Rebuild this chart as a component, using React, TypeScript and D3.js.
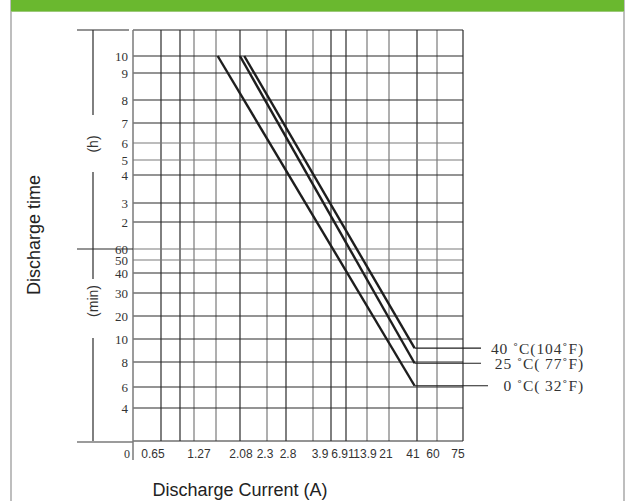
import React from 'react';
import * as d3 from 'd3';

// ---- data ----
const X_TICK_VALUES = [0, 0.65, 1.27, 2.08, 2.3, 2.8, 3.9, 6.91, 13.9, 21, 41, 60, 75];
const X_TICK_LABELS = ['0', '0.65', '1.27', '2.08', '2.3', '2.8', '3.9', '6.91', '13.9', '21', '41', '60', '75'];
// discharge time in minutes
const Y_TICK_VALUES = [600, 540, 480, 420, 360, 300, 240, 180, 120, 60, 50, 40, 30, 20, 10, 8, 6, 4];
const Y_TICK_LABELS = ['10', '9', '8', '7', '6', '5', '4', '3', '2', '60', '50', '40', '30', '20', '10', '8', '6', '4'];

const SERIES_NAMES = ['40 ˚C(104˚F)', '25 ˚C( 77˚F)', '0 ˚C( 32˚F)'];
const CURRENT_START = [2.11, 2.06, 1.63];
const CURRENT_END = [42.5, 42.5, 42.5];
const TIME_START = [600, 600, 600];
const TIME_END = [9.2, 7.9, 6.1];

// ---- layout (pixel positions of the scanned, irregular grid) ----
const X_TICK_POS = [127, 153, 199, 241, 265, 288, 320, 343, 365, 386, 413, 433, 458];
const Y_TICK_POS = [56, 73, 100, 123, 143, 160, 175, 203, 222, 249, 260, 273, 293, 316, 339, 362, 387, 408];
const GRID_X = [161, 180, 194, 216, 240, 267, 286, 313, 331, 346, 367, 389, 417, 437];
const GRID_X_GRAY = [false, false, true, true, false, true, false, true, false, false, true, true, false, true];
const Y_GRAY = [false, false, false, false, true, true, false, false, false, true, true, false, false, false, false, false, false, false];

const PLOT = { left: 133, right: 463, top: 30, bottom: 441 };

export default function App() {
  const x = d3.scaleLinear().domain(X_TICK_VALUES).range(X_TICK_POS);
  const y = d3.scaleLinear().domain(Y_TICK_VALUES).range(Y_TICK_POS);
  const line = d3.line<[number, number]>().x((d) => x(d[0])).y((d) => y(d[1]));

  const series = SERIES_NAMES.map((name, i) => ({
    name,
    pts: [
      [CURRENT_START[i], TIME_START[i]],
      [CURRENT_END[i], TIME_END[i]],
    ] as [number, number][],
  }));

  const dark = '#2a2a2a';
  const gray = '#7a7a7a';
  const serif = '"Liberation Serif", "Times New Roman", serif';
  const sans = '"Liberation Sans", Arial, sans-serif';
  const bx = 93; // bracket line x

  return (
    <svg width={630} height={501} style={{ position: 'absolute', left: 0, top: 0, background: '#fff' }}>
      <rect x={0} y={0} width={630} height={501} fill="#fff" />
      {/* frame */}
      <rect x={11} y={0} width={613} height={510} fill="none" stroke="#a9a9a9" strokeWidth={1.5} />
      <rect x={11} y={0} width={613} height={11} fill="#6ab82f" />
      <line x1={11} x2={624} y1={11.5} y2={11.5} stroke="#9cc97a" strokeWidth={1} />

      {/* grid vertical lines */}
      {GRID_X.map((gx, i) => (
        <line key={'gx' + i} x1={gx} x2={gx} y1={PLOT.top} y2={PLOT.bottom} stroke={GRID_X_GRAY[i] ? gray : dark} strokeWidth={1.2} />
      ))}
      {/* grid horizontal lines */}
      {Y_TICK_VALUES.map((v, i) => (
        <line key={'gy' + i} x1={PLOT.left} x2={PLOT.right} y1={y(v)} y2={y(v)} stroke={Y_GRAY[i] ? gray : dark} strokeWidth={1.2} />
      ))}
      {/* plot border */}
      <line x1={PLOT.left} x2={PLOT.right} y1={PLOT.top} y2={PLOT.top} stroke={dark} strokeWidth={1.2} />
      <line x1={PLOT.left} x2={PLOT.right} y1={PLOT.bottom} y2={PLOT.bottom} stroke={dark} strokeWidth={1.2} />
      <line x1={PLOT.right} x2={PLOT.right} y1={PLOT.top} y2={PLOT.bottom} stroke={dark} strokeWidth={1.2} />
      <line x1={PLOT.left} x2={PLOT.left} y1={PLOT.top} y2={460} stroke={gray} strokeWidth={1.5} />

      {/* left bracket */}
      <line x1={77} x2={129} y1={PLOT.top} y2={PLOT.top} stroke={dark} strokeWidth={1.2} />
      <line x1={77} x2={PLOT.left} y1={y(60)} y2={y(60)} stroke={dark} strokeWidth={1.2} />
      <line x1={77} x2={PLOT.left} y1={PLOT.bottom + 1} y2={PLOT.bottom + 1} stroke={gray} strokeWidth={1.5} />
      <line x1={bx} x2={bx} y1={PLOT.top} y2={115} stroke={dark} strokeWidth={1.2} />
      <line x1={bx} x2={bx} y1={172} y2={279} stroke={dark} strokeWidth={1.2} />
      <line x1={bx} x2={bx} y1={338} y2={PLOT.bottom} stroke={dark} strokeWidth={1.2} />
      <text transform={`translate(${bx + 5},144) rotate(-90)`} textAnchor="middle" fontFamily={sans} fontSize={14} fill="#333">(h)</text>
      <text transform={`translate(${bx + 5},301) rotate(-90)`} textAnchor="middle" fontFamily={sans} fontSize={14} fill="#333">(min)</text>

      {/* y tick labels */}
      {Y_TICK_VALUES.map((v, i) => (
        <text key={'yl' + i} x={128} y={y(v)} dy="0.35em" textAnchor="end" fontFamily={serif} fontSize={13} fill="#333">
          {Y_TICK_LABELS[i]}
        </text>
      ))}
      {/* x tick labels */}
      {X_TICK_VALUES.map((v, i) => (
        <text key={'xl' + i} x={x(v)} y={458} textAnchor="middle" fontFamily={i === 0 ? serif : sans} fontSize={12} fill="#333">
          {X_TICK_LABELS[i]}
        </text>
      ))}

      {/* curves */}
      {series.map((s, i) => (
        <path key={'s' + i} d={line(s.pts) || ''} fill="none" stroke="#1e1e1e" strokeWidth={2.4} />
      ))}
      {/* leaders + labels */}
      {series.map((s, i) => {
        const end = s.pts[1];
        const ey = y(end[1]);
        return (
          <g key={'lab' + i}>
            <line x1={x(end[0])} x2={i === 2 ? 488 : 481} y1={ey} y2={ey} stroke="#1e1e1e" strokeWidth={1.2} />
            <text x={584} y={ey} dy="0.35em" textAnchor="end" fontFamily={serif} fontSize={15.5} letterSpacing={0.9} fill="#333" xmlSpace="preserve" style={{ whiteSpace: 'pre' }}>
              {s.name}
            </text>
          </g>
        );
      })}

      {/* axis titles */}
      <text transform="translate(40,235) rotate(-90)" textAnchor="middle" fontFamily={sans} fontSize={18} fill="#222">Discharge time</text>
      <text x={240} y={496} textAnchor="middle" fontFamily={sans} fontSize={18} fill="#222">Discharge Current (A)</text>
    </svg>
  );
}
